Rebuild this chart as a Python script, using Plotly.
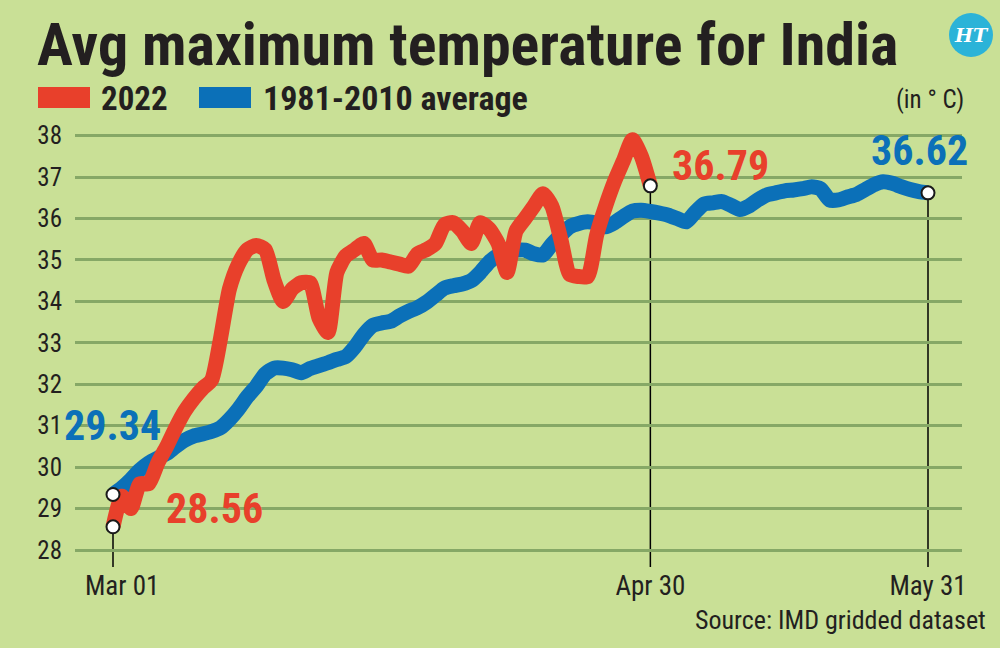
"""
Avg maximum temperature for India: 2022 vs the 1981-2010 average (Mar-May)
"""

import pandas as pd
import plotly.graph_objects as go

# DATA (degrees C)
dias_media = pd.date_range("2022-03-01", "2022-05-31", freq="D")
dias_2022 = pd.date_range("2022-03-01", "2022-04-30", freq="D")

temp_2022 = [
    28.56, 29.3, 29.0, 29.6, 29.6, 30.1, 30.5, 30.95, 31.35, 31.65,
    31.9, 32.1, 33.1, 34.3, 34.9, 35.25, 35.35, 35.25, 34.5, 34.0,
    34.3, 34.45, 34.45, 33.6, 33.25, 34.7, 35.1, 35.25, 35.4, 35.0,
    35.0, 34.95, 34.9, 34.85, 35.15, 35.25, 35.4, 35.85, 35.9, 35.7,
    35.4, 35.9, 35.75, 35.4, 34.7, 35.7, 36.0, 36.3, 36.6, 36.3,
    35.5, 34.65, 34.6, 34.6, 35.6, 36.3, 36.9, 37.4, 37.9, 37.5,
    36.79,
]

temp_media = [
    29.34, 29.5, 29.7, 29.93, 30.1, 30.22, 30.33, 30.5, 30.65, 30.75,
    30.8, 30.86, 30.95, 31.15, 31.4, 31.7, 31.95, 32.25, 32.39, 32.39,
    32.35, 32.28, 32.38, 32.45, 32.52, 32.6, 32.67, 32.9, 33.2, 33.42,
    33.48, 33.52, 33.65, 33.76, 33.85, 33.98, 34.15, 34.32, 34.38, 34.42,
    34.5, 34.7, 34.95, 35.12, 35.22, 35.24, 35.24, 35.15, 35.12, 35.38,
    35.6, 35.8, 35.88, 35.92, 35.88, 35.8, 35.9, 36.05, 36.18, 36.2,
    36.17, 36.13, 36.08, 36.0, 35.92, 36.15, 36.35, 36.38, 36.41, 36.32,
    36.22, 36.3, 36.45, 36.57, 36.62, 36.67, 36.69, 36.72, 36.77, 36.72,
    36.45, 36.45, 36.52, 36.58, 36.7, 36.82, 36.89, 36.85, 36.77, 36.7,
    36.65, 36.62,
]

y_ticks = list(range(28, 39))
x_ticks = ["2022-03-01", "2022-04-30", "2022-05-31"]
x_tick_labels = ["\u2002 Mar 01", "Apr 30", "May 31"]

ROJO = "#e8402b"
AZUL = "#0b70b8"
FONDO = "#c9e096"
TEXTO = "#231f20"
FUENTE = "Roboto Condensed, DejaVu Sans Condensed, Roboto, sans-serif"

# plot area in pixels (1000x648 page)
L, R, T, B = 75, 962, 125, 567


def px(x):
    return (x - L) / (R - L)


def py(y):
    return (B - y) / (B - T)


fig = go.Figure()

fig.add_trace(go.Scatter(
    x=dias_media, y=temp_media, mode="lines", name="1981-2010 average",
    line=dict(color=AZUL, width=15, shape="spline", smoothing=0.6),
))
fig.add_trace(go.Scatter(
    x=dias_2022, y=temp_2022, mode="lines", name="2022",
    line=dict(color=ROJO, width=15, shape="spline", smoothing=0.6),
))

# guide lines from the end points down to the axis
guias = [
    (dias_2022[0], temp_2022[0]),
    (dias_2022[-1], temp_2022[-1]),
    (dias_media[-1], temp_media[-1]),
]
for fecha, valor in guias:
    fig.add_shape(type="line", xref="x", yref="y", x0=fecha, x1=fecha,
                  y0=valor, y1=27.55, line=dict(color="black", width=1.5),
                  layer="below")

# white end-point markers
fig.add_trace(go.Scatter(
    x=[dias_media[0], dias_2022[0], dias_2022[-1], dias_media[-1]],
    y=[temp_media[0], temp_2022[0], temp_2022[-1], temp_media[-1]],
    mode="markers", showlegend=False, hoverinfo="skip",
    marker=dict(size=13, color="white", line=dict(color="#1a1a1a", width=2)),
))

# value labels
etiquetas = [
    ("29.34", AZUL, 112, 425),
    ("28.56", ROJO, 214, 508),
    ("36.79", ROJO, 720, 165),
    ("36.62", AZUL, 919, 150),
]
for texto, color, cx, cy in etiquetas:
    fig.add_annotation(x=px(cx), y=py(cy), xref="paper", yref="paper",
                       text=f"<b>{texto}</b>", showarrow=False,
                       xanchor="center", yanchor="middle",
                       font=dict(family=FUENTE, size=42, color=color))

# title
fig.add_annotation(x=px(35), y=py(44), xref="paper", yref="paper",
                   text="<b>Avg maximum temperature for India</b>",
                   showarrow=False, xanchor="left", yanchor="middle",
                   font=dict(family=FUENTE, size=60, color=TEXTO))

# hand-made legend with square swatches
fig.add_shape(type="rect", xref="paper", yref="paper",
              x0=px(38), x1=px(90), y0=py(108), y1=py(87),
              fillcolor=ROJO, line=dict(width=0))
fig.add_shape(type="rect", xref="paper", yref="paper",
              x0=px(199), x1=px(251), y0=py(108), y1=py(87),
              fillcolor=AZUL, line=dict(width=0))
fig.add_annotation(x=px(99), y=py(98), xref="paper", yref="paper",
                   text="<b>2022</b>", showarrow=False, xanchor="left",
                   yanchor="middle", font=dict(family=FUENTE, size=33, color=TEXTO))
fig.add_annotation(x=px(261), y=py(98), xref="paper", yref="paper",
                   text="<b>1981-2010 average</b>", showarrow=False, xanchor="left",
                   yanchor="middle", font=dict(family=FUENTE, size=34, color=TEXTO))

fig.add_annotation(x=px(966), y=py(100), xref="paper", yref="paper",
                   text="(in ° C)", showarrow=False, xanchor="right",
                   yanchor="middle", font=dict(family=FUENTE, size=25, color=TEXTO))

fig.add_annotation(x=px(988), y=py(620), xref="paper", yref="paper",
                   text="Source: IMD gridded dataset", showarrow=False,
                   xanchor="right", yanchor="middle",
                   font=dict(family=FUENTE, size=26, color=TEXTO))

# HT logo
fig.add_shape(type="circle", xref="paper", yref="paper",
              x0=px(949), x1=px(993), y0=py(57), y1=py(13),
              fillcolor="#2bb3d8", line=dict(width=0))
fig.add_annotation(x=px(971), y=py(35), xref="paper", yref="paper",
                   text="<b><i>HT</i></b>", showarrow=False,
                   xanchor="center", yanchor="middle",
                   font=dict(family="DejaVu Serif, serif", size=19, color="white"))

inicio = pd.Timestamp("2022-03-01")
dia_px = (928 - 113) / 91.0
x_min = inicio - pd.Timedelta(days=(113 - L) / dia_px)
x_max = inicio + pd.Timedelta(days=(R - 113) / dia_px)
y_max = 38 + (135.7 - T) / 41.43
y_min = 28 - (B - 550) / 41.43

fig.update_layout(
    width=1000, height=648,
    margin=dict(l=L, r=1000 - R, t=T, b=648 - B),
    paper_bgcolor=FONDO, plot_bgcolor=FONDO,
    showlegend=False,
    font=dict(family=FUENTE, color=TEXTO),
    xaxis=dict(
        range=[x_min, x_max], showgrid=False, zeroline=False, showline=False,
        tickvals=x_ticks, ticktext=x_tick_labels, ticks="",
        tickfont=dict(family=FUENTE, size=27, color=TEXTO),
        ticklabelstandoff=0,
    ),
    yaxis=dict(
        range=[y_min, y_max], tickvals=y_ticks, showgrid=True,
        gridcolor="#86a866", gridwidth=2.5, zeroline=False, showline=False,
        ticks="", tickfont=dict(family=FUENTE, size=25, color=TEXTO),
        ticklabelstandoff=12,
    ),
)

# page without the default body margin so the figure sits at 0,0
fig.write_html("out.html", config={"displayModeBar": False},
               post_script="document.body.style.margin='0';")
